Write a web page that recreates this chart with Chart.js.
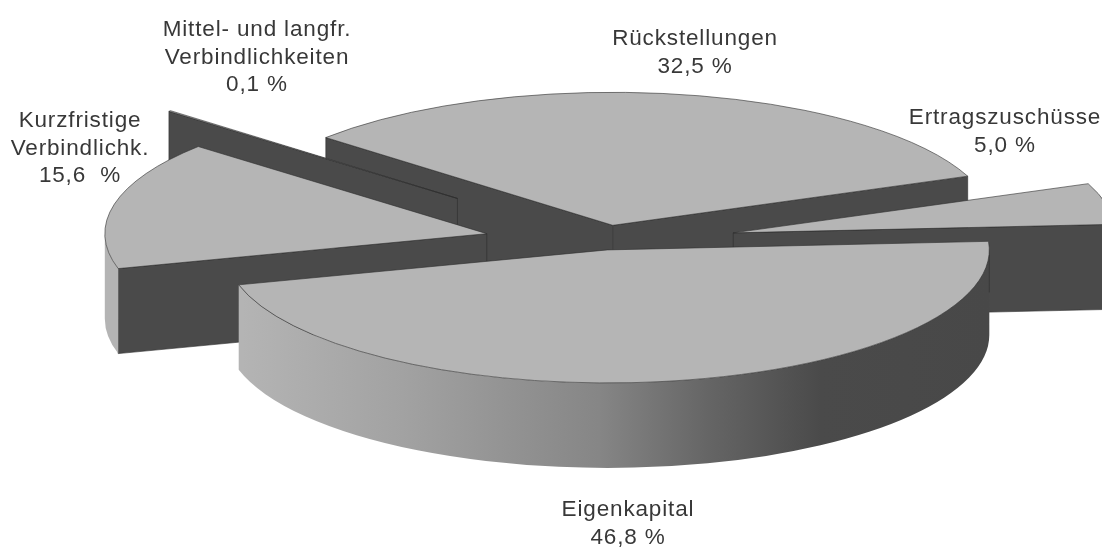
<!DOCTYPE html>
<html lang="de">
<head>
<meta charset="utf-8">
<title>Kapitalstruktur</title>
<script src="https://cdn.jsdelivr.net/npm/chart.js@4"></script>
<style>
  html, body { margin: 0; padding: 0; background: #fff; overflow: hidden; }
  canvas { display: block; }
</style>
</head>
<body>
<canvas id="pie" width="1102" height="547"></canvas>
<script>
const categories = ['Rückstellungen', 'Ertragszuschüsse', 'Eigenkapital', 'Kurzfristige Verbindlichk.', 'Mittel- und langfr. Verbindlichkeiten'];
const shares = [32.5, 5.0, 46.8, 15.6, 0.1];
const labelLines = [['Rückstellungen'], ['Ertragszuschüsse'], ['Eigenkapital'], ['Kurzfristige', 'Verbindlichk.'], ['Mittel- und langfr.', 'Verbindlichkeiten']];
const percentSigns = [' %', ' %', ' %', '  %', ' %'];

// disc on screen: centre, half axes and height of the extrusion
const DISC = { x: 604, y: 243, rx: 382, ry: 133, depth: 85 };
const WALL = '#4a4a4a';
const EDGE = 'rgba(45,45,45,0.75)';

// centre x and first baseline of each text block
const labelAnchors = [
  { x: 695, y: 45 },
  { x: 1005, y: 124 },
  { x: 628, y: 516 },
  { x: 80, y: 127 },
  { x: 257, y: 36 }
];

function outerWallFill(ctx) {
  const g = ctx.createLinearGradient(100, 0, 990, 0);
  g.addColorStop(0, '#b4b4b4');
  g.addColorStop(0.16, '#b4b4b4');
  g.addColorStop(0.34, '#a2a2a2');
  g.addColorStop(0.56, '#868686');
  g.addColorStop(0.68, '#666666');
  g.addColorStop(0.81, '#4a4a4a');
  g.addColorStop(1, '#484848');
  return g;
}

function drawRadialWall(ctx, tip, angle) {
  const px = tip.x + DISC.rx * Math.cos(angle);
  const py = tip.y + DISC.ry * Math.sin(angle);
  ctx.beginPath();
  ctx.moveTo(tip.x, tip.y);
  ctx.lineTo(px, py);
  ctx.lineTo(px, py + DISC.depth);
  ctx.lineTo(tip.x, tip.y + DISC.depth);
  ctx.closePath();
  ctx.fillStyle = WALL;
  ctx.fill();
  ctx.strokeStyle = EDGE;
  ctx.stroke();
}

function drawOuterWall(ctx, tip, a0, a1) {
  // only the half of the rim that faces the viewer
  for (let k = 0; k <= 4 * Math.PI; k += 2 * Math.PI) {
    const lo = Math.max(a0, k);
    const hi = Math.min(a1, k + Math.PI);
    if (lo >= hi) continue;
    ctx.beginPath();
    ctx.ellipse(tip.x, tip.y, DISC.rx, DISC.ry, 0, lo, hi);
    ctx.ellipse(tip.x, tip.y + DISC.depth, DISC.rx, DISC.ry, 0, hi, lo, true);
    ctx.closePath();
    ctx.fillStyle = outerWallFill(ctx);
    ctx.fill();
    // silhouette where the rim turns away on the right
    if (lo === k) {
      ctx.beginPath();
      ctx.moveTo(tip.x + DISC.rx, tip.y);
      ctx.lineTo(tip.x + DISC.rx, tip.y + DISC.depth * 0.5);
      ctx.strokeStyle = EDGE;
      ctx.stroke();
    }
  }
}

function drawTop(ctx, tip, a0, a1, color) {
  ctx.beginPath();
  ctx.moveTo(tip.x, tip.y);
  ctx.ellipse(tip.x, tip.y, DISC.rx, DISC.ry, 0, a0, a1);
  ctx.closePath();
  ctx.fillStyle = color;
  ctx.fill();
  ctx.strokeStyle = EDGE;
  ctx.stroke();
}

const extrudedPie = {
  id: 'extrudedPie',
  beforeDatasetsDraw(chart) {
    const ctx = chart.ctx;
    const arcs = chart.getDatasetMeta(0).data.map((arc) => {
      const mid = (arc.startAngle + arc.endAngle) / 2;
      // option offset is in chart pixels, rescaled to the flattened disc
      const d = arc.options.offset / arc.outerRadius;
      return {
        a0: arc.startAngle,
        a1: arc.endAngle,
        mid,
        color: arc.options.backgroundColor,
        tip: { x: DISC.x + DISC.rx * d * Math.cos(mid), y: DISC.y + DISC.ry * d * Math.sin(mid) }
      };
    });
    // back slices first
    arcs.sort((p, q) => Math.sin(p.mid) - Math.sin(q.mid));
    ctx.save();
    ctx.lineWidth = 0.8;
    ctx.lineJoin = 'round';
    arcs.forEach((s) => {
      // cut faces turned towards the viewer only
      if (Math.cos(s.a0) < 0) drawRadialWall(ctx, s.tip, s.a0);
      if (Math.cos(s.a1) > 0) drawRadialWall(ctx, s.tip, s.a1);
      drawOuterWall(ctx, s.tip, s.a0, s.a1);
      drawTop(ctx, s.tip, s.a0, s.a1, s.color);
    });
    ctx.restore();
    return false;
  },
  afterDraw(chart) {
    const ctx = chart.ctx;
    ctx.save();
    ctx.font = '22.5px "Liberation Sans", Arial, sans-serif';
    ctx.fillStyle = '#383838';
    ctx.textAlign = 'center';
    ctx.letterSpacing = '0.85px';
    labelLines.forEach((lines, i) => {
      const text = lines.concat(shares[i].toFixed(1).replace('.', ',') + percentSigns[i]);
      text.forEach((line, n) => {
        ctx.fillText(line, labelAnchors[i].x, labelAnchors[i].y + n * 27.7);
      });
    });
    ctx.restore();
  }
};

new Chart(document.getElementById('pie'), {
  type: 'pie',
  data: {
    labels: categories,
    datasets: [{
      data: shares,
      backgroundColor: '#b5b5b5',
      borderWidth: 0,
      offset: [29.4, 75.6, 11.5, 68.6, 111]
    }]
  },
  options: {
    responsive: false,
    animation: false,
    rotation: 311.3,
    plugins: {
      legend: { display: false },
      tooltip: { enabled: false }
    }
  },
  plugins: [extrudedPie]
});
</script>
</body>
</html>
